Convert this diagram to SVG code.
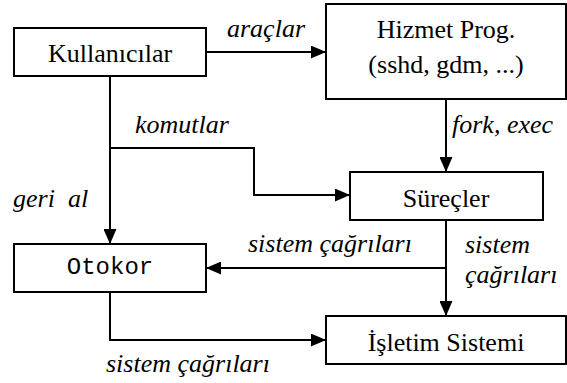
<svg xmlns="http://www.w3.org/2000/svg" width="567" height="383" viewBox="0 0 567 383">
<defs>
<marker id="ah" viewBox="0 0 15 13" refX="15" refY="6.5" markerWidth="15" markerHeight="13" markerUnits="userSpaceOnUse" orient="auto">
<path d="M0,0 L15,6.5 L0,13 Z" fill="#000"/>
</marker>
<style>
.box{fill:#fff;stroke:#000;stroke-width:2}
.t{font-family:'Liberation Serif','Tinos','DejaVu Serif',serif;font-size:26px;fill:#000;text-anchor:middle}
.m{font-family:'Liberation Mono','Cousine','DejaVu Sans Mono',monospace;font-size:24px;fill:#000;text-anchor:middle}
.l{font-family:'Liberation Serif','Tinos','DejaVu Serif',serif;font-size:26px;font-style:italic;fill:#000;white-space:pre}
.c{fill:none;stroke:#000;stroke-width:2}
</style>
</defs>
<rect width="567" height="383" fill="#fff"/>
<g id="connectors">
<path class="c" d="M206,52 H326" marker-end="url(#ah)"/>
<path class="c" d="M446,99 V172" marker-end="url(#ah)"/>
<path class="c" d="M110,76 V244" marker-end="url(#ah)"/>
<path class="c" d="M110,148 H254 V195 H350" marker-end="url(#ah)"/>
<path class="c" d="M446,220 V316" marker-end="url(#ah)"/>
<path class="c" d="M446,268 H206" marker-end="url(#ah)"/>
<path class="c" d="M110,292 V340 H326" marker-end="url(#ah)"/>
<text class="l" x="227" y="37">araçlar</text>
<text class="l" x="452" y="133">fork, exec</text>
<text class="l" x="135" y="133">komutlar</text>
<text class="l" x="13" y="207">geri  al</text>
<text class="l" x="248" y="252">sistem çağrıları</text>
<text class="l" x="465" y="253">sistem</text>
<text class="l" x="465" y="283">çağrıları</text>
<text class="l" x="106" y="372">sistem çağrıları</text>
</g>
<g id="kullanicilar">
<rect class="box" x="14" y="28" width="192" height="48"/>
<text class="t" x="110" y="62">Kullanıcılar</text>
</g>
<g id="hizmet">
<rect class="box" x="326" y="4" width="240" height="95"/>
<text class="t" x="446" y="38">Hizmet Prog.</text>
<text class="t" x="446" y="73">(sshd, gdm, ...)</text>
</g>
<g id="surecler">
<rect class="box" x="350" y="172" width="193" height="48"/>
<text class="t" x="446" y="207">Süreçler</text>
</g>
<g id="otokor">
<rect class="box" x="14" y="244" width="192" height="48"/>
<text class="m" x="110" y="274">Otokor</text>
</g>
<g id="isletim">
<rect class="box" x="326" y="316" width="240" height="48"/>
<text class="t" x="446" y="351">İşletim Sistemi</text>
</g>
</svg>
